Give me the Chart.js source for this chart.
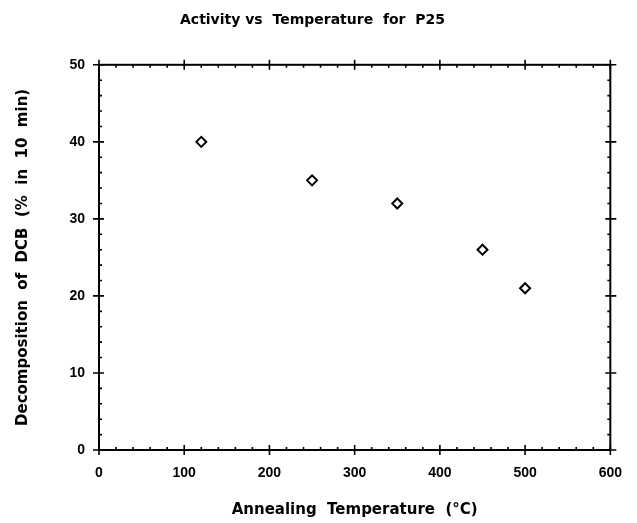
<!DOCTYPE html>
<html>
<head>
<meta charset="utf-8">
<script src="https://cdn.jsdelivr.net/npm/chart.js@4.4.1/dist/chart.umd.min.js"></script>
<style>
  html, body { margin: 0; padding: 0; background: #fff; }
  #wrap { width: 637px; height: 523px; }
</style>
</head>
<body>
<div id="wrap"><canvas id="c"></canvas></div>
<script>
// ── data ────────────────────────────────────────────────────
const temps    = [120, 250, 350, 450, 500];   // annealing temperature (°C)
const activity = [40, 35, 32, 26, 21];        // % DCB decomposed in 10 min
const xTicks   = [0, 100, 200, 300, 400, 500, 600];
const yTicks   = [0, 10, 20, 30, 40, 50];

const TEXT_FONT = '"DejaVu Sans", sans-serif';
const TICK_FONT = '"Liberation Sans", Arial, sans-serif';

// closed frame + inward minor/major ticks on all four sides
const frameTicks = {
  id: 'frameTicks',
  afterDraw(chart) {
    const { ctx, chartArea: a, scales: { x, y } } = chart;
    ctx.save();
    ctx.strokeStyle = '#000';
    ctx.lineWidth = 2;
    ctx.strokeRect(a.left, a.top, a.right - a.left, a.bottom - a.top);
    ctx.lineWidth = 1.6;
    ctx.beginPath();
    for (let v = 0; v <= 600; v += 20) {
      const px = x.getPixelForValue(v);
      const major = xTicks.includes(v);
      const inn = major ? 5 : 3, out = major ? 5 : 0;
      ctx.moveTo(px, a.bottom + out); ctx.lineTo(px, a.bottom - inn);
      ctx.moveTo(px, a.top - out);    ctx.lineTo(px, a.top + inn);
    }
    for (let v = 0; v <= 50; v += 2) {
      const py = y.getPixelForValue(v);
      const major = yTicks.includes(v);
      const inn = major ? 5 : 3, out = major ? 6 : 0;
      ctx.moveTo(a.left - out, py);  ctx.lineTo(a.left + inn, py);
      ctx.moveTo(a.right + out, py); ctx.lineTo(a.right - inn, py);
    }
    ctx.stroke();
    ctx.restore();
  }
};

new Chart(document.getElementById('c'), {
  type: 'scatter',
  data: {
    datasets: [{
      data: temps.map((t, i) => ({ x: t, y: activity[i] })),
      pointStyle: 'rectRot',
      radius: 5,
      hoverRadius: 5,
      backgroundColor: '#fff',
      borderColor: '#000',
      borderWidth: 2,
    }],
  },
  options: {
    responsive: true,
    maintainAspectRatio: false,
    animation: false,
    layout: { padding: { left: 0, right: 12, top: 0, bottom: 0 } },
    plugins: {
      legend: { display: false },
      tooltip: { enabled: false },
      title: {
        display: true,
        text: 'Activity vs  Temperature  for  P25',
        color: '#000',
        font: { family: TEXT_FONT, size: 14, weight: 'bold' },
        padding: { top: 12, bottom: 36 },
      },
    },
    scales: {
      x: {
        type: 'linear',
        min: 0, max: 600,
        afterBuildTicks: s => { s.ticks = xTicks.map(v => ({ value: v })); },
        afterFit: s => { s.height = 73; },
        grid: { display: false, drawTicks: false },
        border: { display: false },
        ticks: {
          padding: 15,
          color: '#000',
          font: { family: TICK_FONT, size: 14, weight: 'bold' },
        },
        title: {
          display: true,
          text: 'Annealing  Temperature  (°C)',
          color: '#000',
          font: { family: TEXT_FONT, size: 15, weight: 'bold' },
          padding: { top: 12 },
        },
      },
      y: {
        type: 'linear',
        min: 0, max: 50,
        afterBuildTicks: s => { s.ticks = yTicks.map(v => ({ value: v })); },
        afterFit: s => { s.width = 99; },
        grid: { display: false, drawTicks: false },
        border: { display: false },
        ticks: {
          padding: 14,
          color: '#000',
          font: { family: TICK_FONT, size: 14, weight: 'bold' },
        },
        title: {
          display: true,
          text: 'Decomposition  of  DCB  (%  in  10  min)',
          color: '#000',
          font: { family: TEXT_FONT, size: 15, weight: 'bold' },
          padding: { top: 14, bottom: 0 },
        },
      },
    },
  },
  plugins: [frameTicks],
});
</script>
</body>
</html>
